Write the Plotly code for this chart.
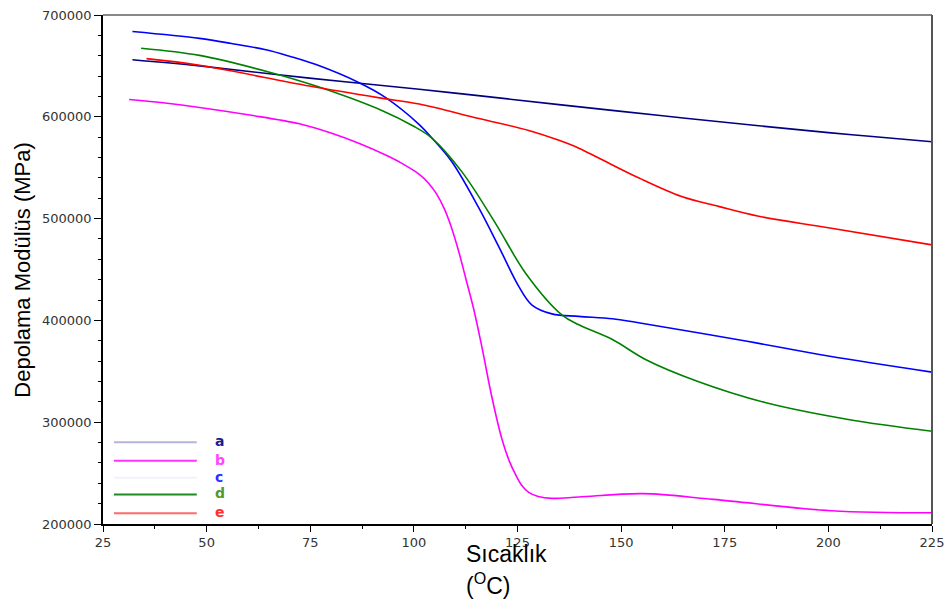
import plotly.graph_objects as go

# Storage modulus vs temperature for samples a-e
temp_a = [32.1, 48.3, 74.8, 101.3, 115.0, 135.0, 160.0, 183.2, 200.0, 210.6, 225.0]
mod_a = [656000, 650000, 638000, 627000, 621000, 612000, 601000, 591200, 584500, 580600, 575500]

temp_b = [31.3, 40.0, 48.3, 60.0, 72.4, 80.0, 87.0, 93.2, 97.0, 101.3, 103.5, 105.5, 107.3, 109.0,
          110.8, 112.6, 114.5, 116.5, 118.8, 121.2, 123.0, 124.6, 126.0, 127.7, 130.0, 133.3,
          139.8, 155.2, 172.3, 200.7, 225.0]
mod_b = [617000, 613500, 609200, 602000, 593100, 584000, 573500, 562400, 554500, 543500, 535000,
         524000, 510000, 492000, 468000, 440000, 410000, 372000, 325000, 284000, 262000, 248000,
         238000, 231000, 227000, 225200, 226500, 229800, 224200, 213000, 211000]

temp_c = [32.1, 48.3, 56.0, 64.3, 70.0, 76.4, 86.8, 93.2, 101.3, 104.4, 109.2, 115.6, 120.5,
          125.3, 128.5, 133.3, 139.8, 147.9, 154.2, 180.4, 200.0, 225.0]
mod_c = [683800, 677000, 672000, 665800, 659500, 651300, 633500, 618900, 592400, 578900, 555600,
         511000, 472300, 433500, 415100, 406400, 404000, 401700, 397700, 379500, 365000, 349200]

temp_d = [34.2, 48.3, 64.3, 76.4, 92.4, 99.6, 104.4, 111.6, 119.8, 127.0, 135.7, 139.8, 147.9,
          156.0, 168.2, 184.5, 204.8, 225.0]
mod_d = [667400, 660300, 644800, 630200, 606000, 591500, 578900, 545900, 494600, 446100, 405400,
         395700, 381200, 361400, 340500, 319600, 302700, 291100]

temp_e = [35.5, 48.3, 74.8, 91.7, 101.3, 115.7, 127.7, 135.0, 139.8, 144.6, 154.2, 164.6, 173.5,
          183.2, 200.0, 225.0]
mod_e = [657100, 650600, 630200, 618600, 612500, 598300, 586600, 576900, 569200, 559500, 540100,
         521700, 512000, 502300, 491000, 474200]

series_names = ["a", "b", "c", "d", "e"]
curve_colors = ["#000080", "#ff00ff", "#0000ff", "#008000", "#ff0000"]
key_line_colors = ["#b4b4dc", "#ff33ff", "#f2f2fa", "#1f8a1f", "#ff6a6a"]
key_text_colors = ["#1c1c8a", "#ff44ff", "#3030ff", "#4f9a2a", "#ff3030"]

x_ticks = [25, 50, 75, 100, 125, 150, 175, 200, 225]
y_ticks = [200000, 300000, 400000, 500000, 600000, 700000]
y_tick_text = [str(v) for v in y_ticks]

fig = go.Figure()
for name, xs, ys, col in zip(series_names,
                             [temp_a, temp_b, temp_c, temp_d, temp_e],
                             [mod_a, mod_b, mod_c, mod_d, mod_e],
                             curve_colors):
    fig.add_trace(go.Scatter(x=xs, y=ys, mode="lines", name=name,
                             line=dict(color=col, width=1.6, shape="spline", smoothing=1.0),
                             showlegend=False))

# Hand-drawn key in the lower-left corner
W, H = 952, 608
L, R, T, B = 103, 18, 8, 84
pw, ph = W - L - R, H - T - B

def px_x(p):
    return (p - L) / pw

def px_y(p):
    return 1 - (p - T) / ph

key_rows = [441, 460, 477, 494, 513]
for name, row, lc, tc in zip(series_names, key_rows, key_line_colors, key_text_colors):
    fig.add_shape(type="line", xref="paper", yref="paper",
                  x0=px_x(114), x1=px_x(197), y0=px_y(row), y1=px_y(row),
                  line=dict(color=lc, width=2))
    fig.add_annotation(xref="paper", yref="paper", x=px_x(213), y=px_y(row - 1),
                       text="<b>%s</b>" % name, showarrow=False, xanchor="left",
                       yanchor="middle", font=dict(family="DejaVu Sans", size=14, color=tc))

# Gray frame on top and right
fig.add_shape(type="line", xref="paper", yref="paper", x0=0, x1=1, y0=1, y1=1,
              line=dict(color="#888888", width=2))
fig.add_shape(type="line", xref="paper", yref="paper", x0=1, x1=1, y0=0, y1=1,
              line=dict(color="#555555", width=2))

# Axis titles
fig.add_annotation(xref="paper", yref="paper", x=px_x(22), y=0.5, text="Depolama Modülüs (MPa)",
                   textangle=-90, showarrow=False, xanchor="center", yanchor="middle",
                   font=dict(family="Liberation Sans", size=22, color="black"))
fig.add_annotation(xref="paper", yref="paper", x=px_x(465), y=px_y(554), text="Sıcaklık",
                   showarrow=False, xanchor="left", yanchor="middle",
                   font=dict(family="Liberation Sans", size=23, color="black"))
fig.add_annotation(xref="paper", yref="paper", x=px_x(465), y=px_y(585), text="(<sup>O</sup>C)",
                   showarrow=False, xanchor="left", yanchor="middle",
                   font=dict(family="Liberation Sans", size=23, color="black"))

fig.update_layout(
    width=W, height=H,
    margin=dict(l=L, r=R, t=T, b=B),
    paper_bgcolor="white", plot_bgcolor="white",
    font=dict(family="DejaVu Sans", size=13, color="#333333"),
)
fig.update_xaxes(range=[25, 225], tickvals=x_ticks, showgrid=False, zeroline=False,
                 showline=True, linecolor="black", linewidth=1.5,
                 ticks="outside", ticklen=6, tickcolor="black",
                 minor=dict(dtick=12.5, tick0=25, ticks="outside", ticklen=3, tickcolor="black"),
                 tickfont=dict(family="DejaVu Sans", size=13, color="#333333"))
fig.update_yaxes(range=[200000, 700000], tickvals=y_ticks, ticktext=y_tick_text,
                 showgrid=False, zeroline=False,
                 showline=True, linecolor="black", linewidth=1.5,
                 ticks="outside", ticklen=7, tickcolor="black",
                 minor=dict(dtick=20000, tick0=200000, ticks="outside", ticklen=3, tickcolor="black"),
                 tickfont=dict(family="DejaVu Sans", size=13, color="#333333"))

fig.write_html("out.html")
